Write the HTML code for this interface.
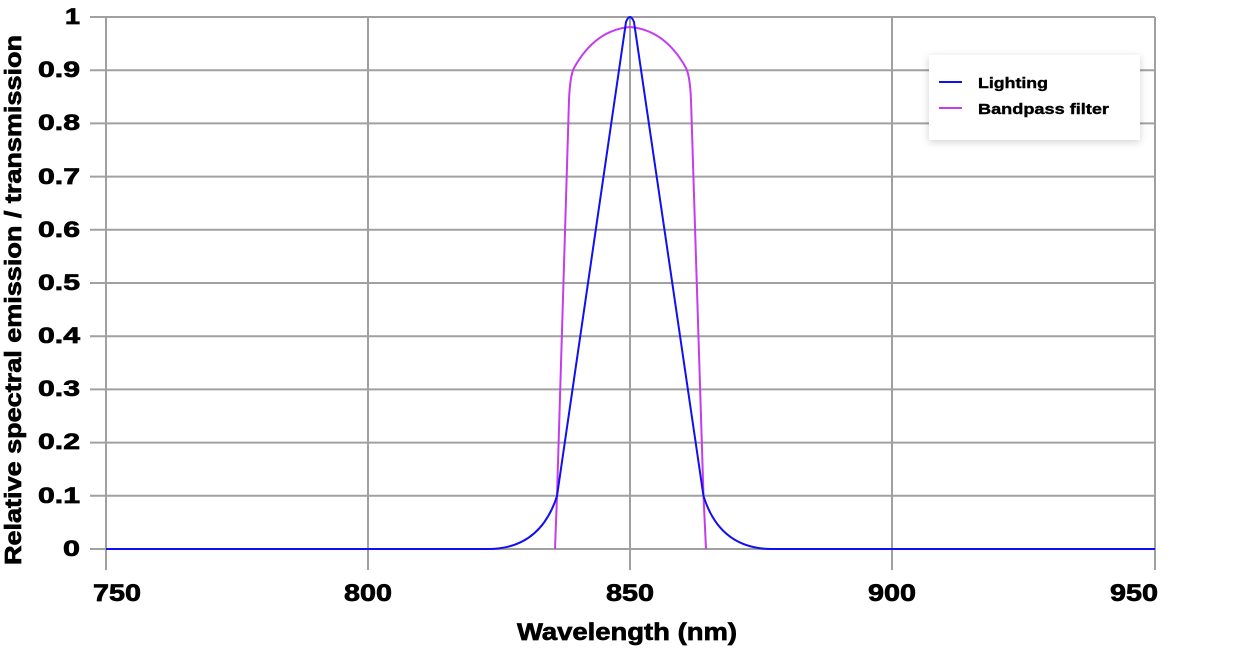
<!DOCTYPE html>
<html><head><meta charset="utf-8"><style>
body{margin:0;background:#fff;}
svg{display:block;font-family:"Liberation Sans",Arial,sans-serif;font-weight:bold;}
.t{stroke:#000;stroke-width:0.7;}
</style></head><body>
<svg width="1245" height="648" viewBox="0 0 1245 648">
<defs><filter id="sh" x="-20%" y="-30%" width="140%" height="160%"><feDropShadow dx="0" dy="2" stdDeviation="4" flood-color="#000" flood-opacity="0.18"/></filter></defs>
<g stroke="#a0a0a0" stroke-width="2">
<line x1="90" y1="17" x2="1155" y2="17"/>
<line x1="90" y1="70.2" x2="1155" y2="70.2"/>
<line x1="90" y1="123.4" x2="1155" y2="123.4"/>
<line x1="90" y1="176.6" x2="1155" y2="176.6"/>
<line x1="90" y1="229.8" x2="1155" y2="229.8"/>
<line x1="90" y1="283" x2="1155" y2="283"/>
<line x1="90" y1="336.2" x2="1155" y2="336.2"/>
<line x1="90" y1="389.4" x2="1155" y2="389.4"/>
<line x1="90" y1="442.6" x2="1155" y2="442.6"/>
<line x1="90" y1="495.8" x2="1155" y2="495.8"/>
<line x1="90" y1="549" x2="1155" y2="549"/>
<line x1="106" y1="17" x2="106" y2="570"/>
<line x1="368" y1="17" x2="368" y2="570"/>
<line x1="630" y1="17" x2="630" y2="570"/>
<line x1="892" y1="17" x2="892" y2="570"/>
<line x1="1155" y1="17" x2="1155" y2="570"/>
</g>
<path d="M555 549 L557 496 L569 100 Q570 76 574 68 Q595 30 630 27 Q665 30 686 68 Q690 76 691 100 L703.5 496 L706 549" fill="none" stroke="#c43cf0" stroke-width="2"/>
<path d="M106 549 L488 549 Q540 549 557 496 L626 22 Q630 12 634 22 L703.5 496 Q720 549 772 549 L1155 549" fill="none" stroke="#1010f0" stroke-width="2"/>
<rect x="929" y="55" width="211" height="85" fill="#fff" filter="url(#sh)"/>
<line x1="939" y1="82" x2="962" y2="82" stroke="#1010f0" stroke-width="2"/>
<line x1="939" y1="108" x2="962" y2="108" stroke="#c43cf0" stroke-width="2"/>
<text class="t" style="stroke-width:0.4" x="978" y="88" font-size="15" textLength="70" lengthAdjust="spacingAndGlyphs">Lighting</text>
<text class="t" style="stroke-width:0.4" x="978" y="114" font-size="15" textLength="131" lengthAdjust="spacingAndGlyphs">Bandpass filter</text>
<g font-size="22" class="t">
<text x="65" y="24" textLength="15" lengthAdjust="spacingAndGlyphs">1</text>
<text x="38" y="77" textLength="42" lengthAdjust="spacingAndGlyphs">0.9</text>
<text x="38" y="130" textLength="42" lengthAdjust="spacingAndGlyphs">0.8</text>
<text x="38" y="184" textLength="42" lengthAdjust="spacingAndGlyphs">0.7</text>
<text x="38" y="237" textLength="42" lengthAdjust="spacingAndGlyphs">0.6</text>
<text x="38" y="290" textLength="42" lengthAdjust="spacingAndGlyphs">0.5</text>
<text x="38" y="343" textLength="42" lengthAdjust="spacingAndGlyphs">0.4</text>
<text x="38" y="396" textLength="42" lengthAdjust="spacingAndGlyphs">0.3</text>
<text x="38" y="449" textLength="42" lengthAdjust="spacingAndGlyphs">0.2</text>
<text x="38" y="503" textLength="42" lengthAdjust="spacingAndGlyphs">0.1</text>
<text x="63" y="556" textLength="17" lengthAdjust="spacingAndGlyphs">0</text>
</g>
<g font-size="24" class="t">
<text x="93" y="601" textLength="48" lengthAdjust="spacingAndGlyphs">750</text>
<text x="344" y="601" textLength="48" lengthAdjust="spacingAndGlyphs">800</text>
<text x="606" y="601" textLength="48" lengthAdjust="spacingAndGlyphs">850</text>
<text x="868" y="601" textLength="48" lengthAdjust="spacingAndGlyphs">900</text>
<text x="1110" y="601" textLength="48" lengthAdjust="spacingAndGlyphs">950</text>
<text x="517" y="640" textLength="220" lengthAdjust="spacingAndGlyphs">Wavelength (nm)</text>
</g>
<text class="t" transform="translate(21,565) rotate(-90)" font-size="23" textLength="530" lengthAdjust="spacingAndGlyphs">Relative spectral emission / transmission</text>
</svg>
</body></html>
